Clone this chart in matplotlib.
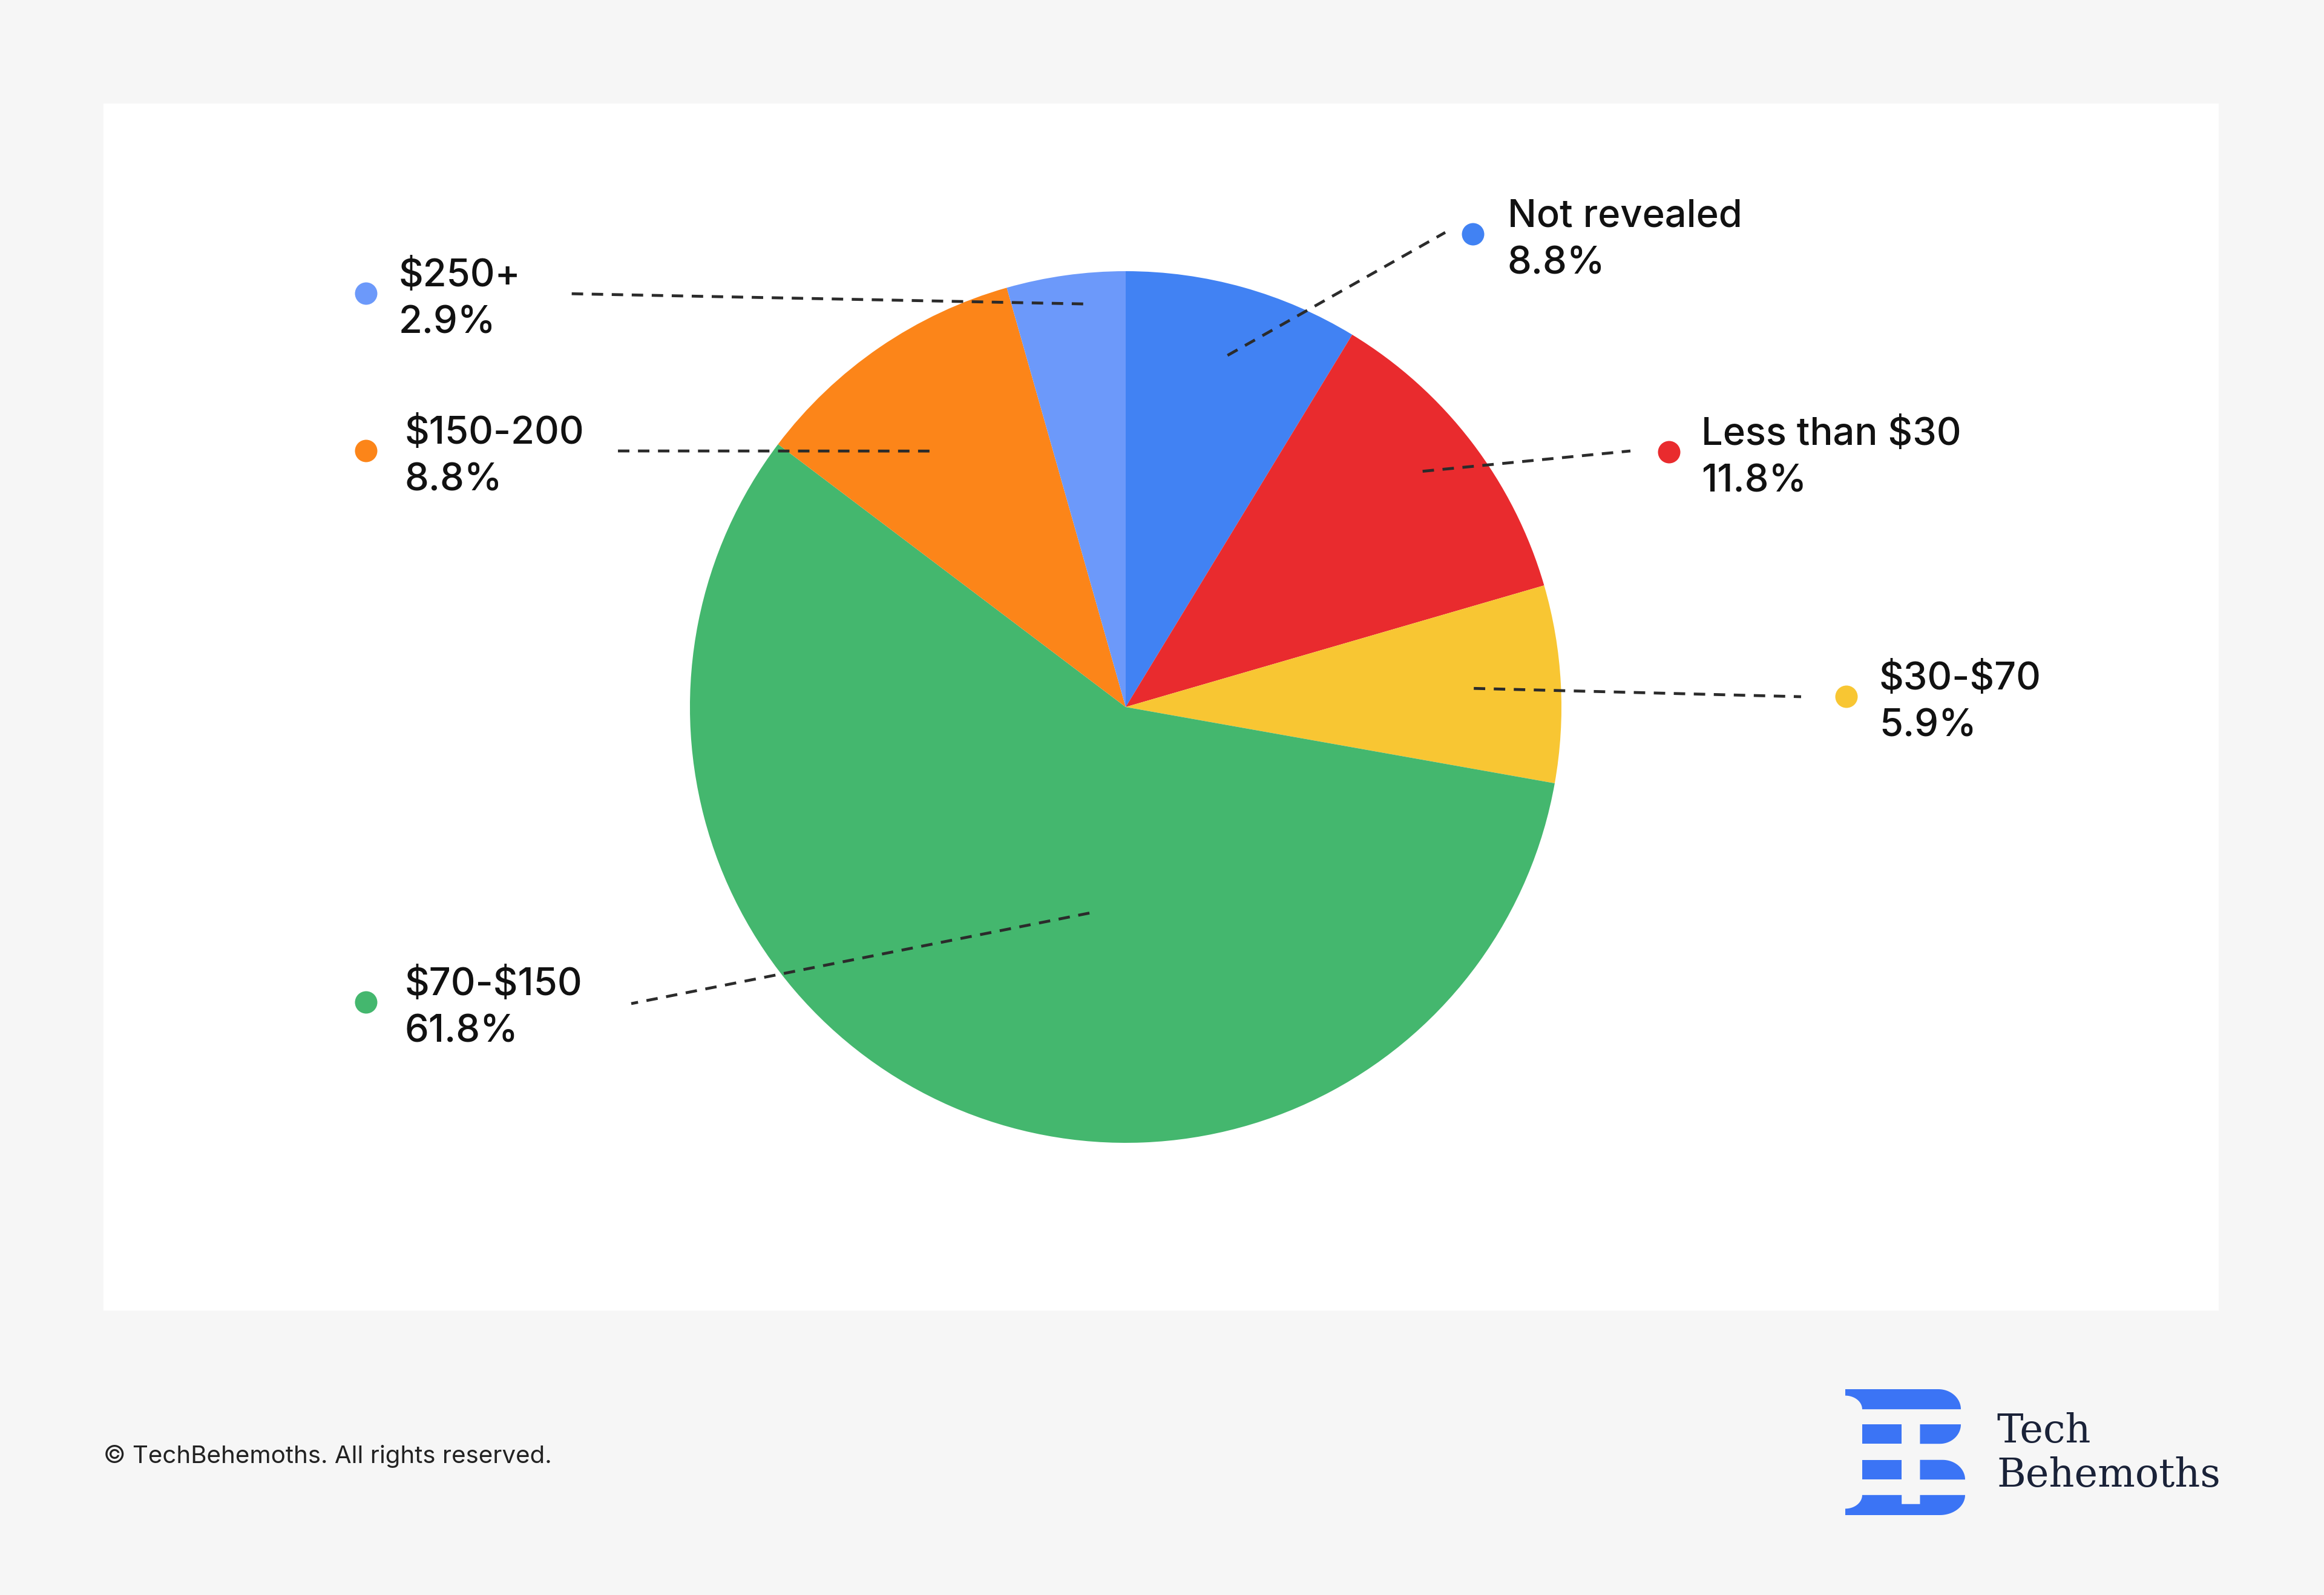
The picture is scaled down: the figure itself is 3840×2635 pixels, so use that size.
import numpy as np
import matplotlib
matplotlib.use("Agg")
import matplotlib.pyplot as plt
from matplotlib.patches import Rectangle, Circle, PathPatch
from matplotlib.path import Path

# ---------------- data ----------------
categories = ["Not revealed", "Less than $30", "$30-$70", "$70-$150", "$150-200", "$250+"]
label_pcts = [8.8, 11.8, 5.9, 61.8, 8.8, 2.9]          # percentages printed on labels
slice_values = [8.7, 11.8, 7.3, 57.5, 10.3, 4.4]        # slice sizes as drawn
colors = ["#4182F3", "#E92B2E", "#F8C633", "#44B76E", "#FC8519", "#6C99FA"]

# ---------------- layout (pixel coords, image y downward) ----------------
W, H = 3840, 2635
def Y(y):
    return H - y

center = (1860, 1168)
R = 720
leader_frac = [0.84, 0.87, 0.80, 0.48, 0.74, 0.93]
leader_nudge = [-0.5, 1.0, 0.0, 13.6, 3.1, -1.9]
leader_end = [(2388, 384), (2694, 745), (2976, 1151), (1043, 1658), (1016, 745), (931, 485)]
dot_pos = [(2434, 387), (2758, 747), (3051, 1151), (605, 1656), (605, 745), (605, 485)]
text_x = [2491, 2811, 3105, 669, 669, 659]

fig = plt.figure(figsize=(W / 100, H / 100), dpi=100, facecolor="#f6f6f6")
ax = fig.add_axes([0, 0, 1, 1])
ax.set_facecolor("#f6f6f6")

# white panel
ax.add_patch(Rectangle((171, Y(2165)), 3666 - 171, 2165 - 171, fc="white", ec="none", zorder=0))

wedges, _ = ax.pie(slice_values, colors=colors, startangle=90, counterclock=False,
                   center=(center[0], Y(center[1])), radius=R,
                   wedgeprops=dict(linewidth=0, zorder=2))

for i, w in enumerate(wedges):
    mid = np.radians((w.theta1 + w.theta2) / 2 + leader_nudge[i])
    sx = center[0] + leader_frac[i] * R * np.cos(mid)
    sy = Y(center[1]) + leader_frac[i] * R * np.sin(mid)
    ex, ey = leader_end[i]
    ax.plot([sx, ex], [sy, Y(ey)], ls=(0, (4.0, 3.0)), color="#2b2b2b", lw=3.4, zorder=4)
    dx, dy = dot_pos[i]
    ax.add_patch(Circle((dx, Y(dy)), 18.5, fc=colors[i], ec="none", zorder=5))
    ax.text(text_x[i], Y(dy) - 10, f"{categories[i]}\n{label_pcts[i]}%", ha="left", va="center",
            fontsize=45.5, family=["Inter", "DejaVu Sans"], weight="medium", color="#111111",
            linespacing=1.4, zorder=6, parse_math=False)

# copyright
ax.text(171, Y(2417), "\u00a9 TechBehemoths. All rights reserved.", ha="left", va="baseline",
        fontsize=29, family=["Inter", "DejaVu Sans"], color="#222222", parse_math=False)

# ---------------- logo ----------------
lx0, lx1, ly0, ly1 = 3049, 3247, 2295, 2503
def L(px, py):
    return (lx0 + (px - 155) * (lx1 - lx0) / 425.0, Y(ly0 + (py - 168) * (ly1 - ly0) / 627.0))

def arc(cx, cy, rx, ry, a0, a1, n=24):
    t = np.radians(np.linspace(a0, a1, n))
    return [(cx + rx * np.cos(a), cy - ry * np.sin(a)) for a in t]

def poly(pts, color):
    verts = [L(*p) for p in pts]
    verts.append(verts[0])
    codes = [Path.MOVETO] + [Path.LINETO] * (len(verts) - 2) + [Path.CLOSEPOLY]
    ax.add_patch(PathPatch(Path(verts, codes), fc=color, ec="none", zorder=3))

logo_blue = "#3B74F5"
# top bar
pts = [(155, 168), (485, 168)] + arc(485, 268, 80, 100, 90, 0) + [(215, 268)] + arc(155, 268, 60, 68, 0, 90)
poly(pts, logo_blue)
# row 2
poly([(215, 343), (355, 343), (355, 440), (215, 440)], logo_blue)
poly([(420, 343), (490, 343)] + arc(490, 343, 75, 97, 0, -90) + [(420, 440)], logo_blue)
# row 3
poly([(215, 520), (355, 520), (355, 618), (215, 618)], logo_blue)
poly([(420, 520), (500, 520)] + arc(500, 618, 80, 98, 90, 0) + [(420, 618)], logo_blue)
# bottom bar
pts = [(215, 695), (355, 695), (355, 740), (420, 740), (420, 695), (580, 695)] + \
      arc(490, 695, 90, 100, 0, -90) + [(155, 795)] + arc(155, 695, 60, 68, -90, 0)
poly(pts, logo_blue)

ax.text(3299, Y(2383), "Tech", ha="left", va="baseline", fontsize=47,
        family="DejaVu Serif", color="#1a2238")
ax.text(3299, Y(2456), "Behemoths", ha="left", va="baseline", fontsize=47,
        family="DejaVu Serif", color="#1a2238")

ax.set_xlim(0, W)
ax.set_ylim(0, H)
ax.set_aspect("equal")
ax.axis("off")

fig.savefig("out.png", dpi=100, facecolor=fig.get_facecolor())
